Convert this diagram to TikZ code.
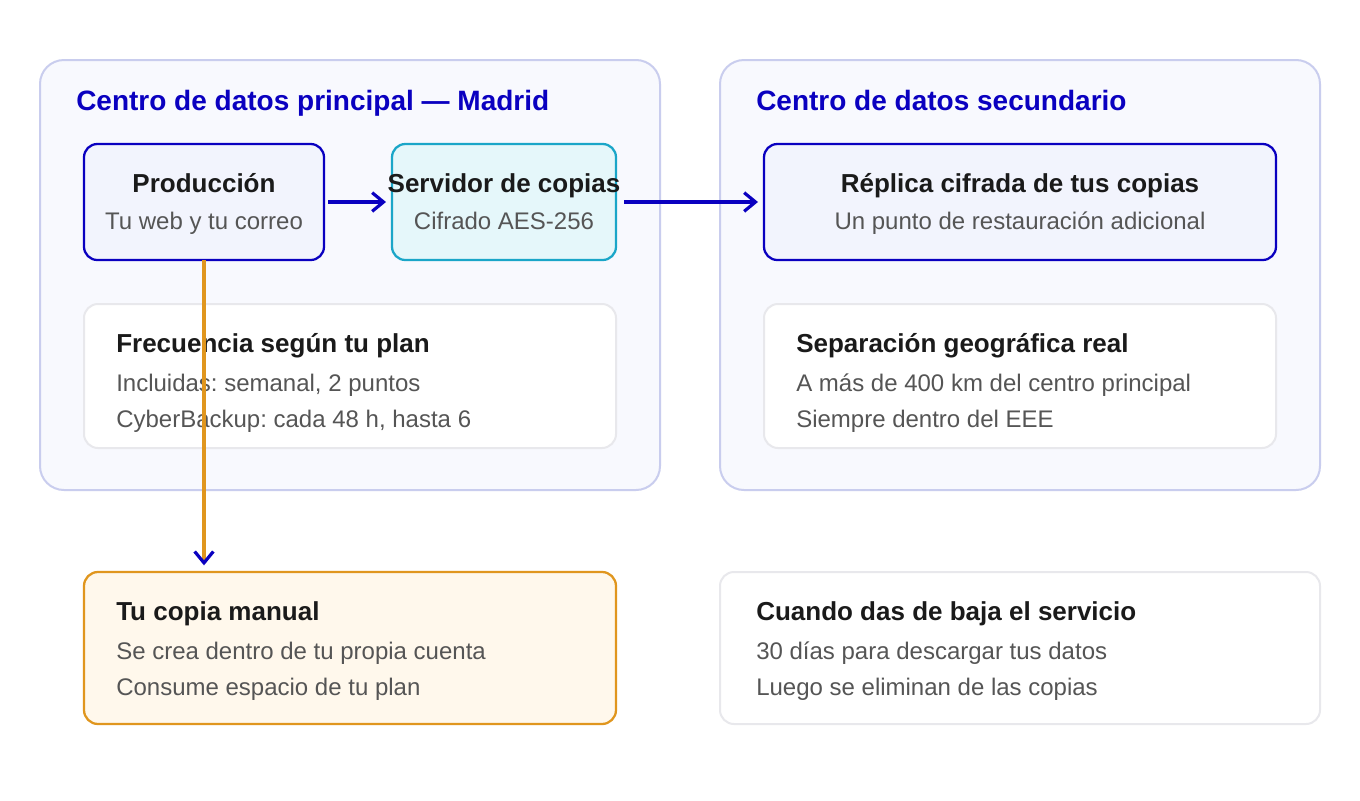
\documentclass[tikz,border=0pt]{standalone}
\usepackage{fontspec}
\setmainfont{Liberation Sans}
\frenchspacing
\usetikzlibrary{arrows.meta}
\definecolor{cblue}{HTML}{0A00C0}
\definecolor{ccyan}{HTML}{1AA6C8}
\definecolor{corange}{HTML}{E0961E}
\definecolor{outerfill}{HTML}{F8F9FE}
\definecolor{outerline}{HTML}{C9CDEE}
\definecolor{bluefill}{HTML}{F2F4FD}
\definecolor{cyanfill}{HTML}{E5F7FA}
\definecolor{orangefill}{HTML}{FFF8EC}
\definecolor{grayline}{HTML}{E8E8EC}
\definecolor{bodygray}{HTML}{555555}
\definecolor{darktext}{HTML}{1A1A1A}
\tikzset{
  box/.style={draw, rectangle, anchor=north west, inner sep=0pt, outer sep=0pt, line width=1.5pt},
  outerbox/.style={box, fill=outerfill, draw=outerline, rounded corners=18pt, minimum height=322.5pt},
  bluebox/.style={box, fill=bluefill, draw=cblue, rounded corners=10pt, line width=1.7pt},
  cyanbox/.style={box, fill=cyanfill, draw=ccyan, rounded corners=10pt, line width=1.7pt},
  whitebox/.style={box, fill=white, draw=grayline, rounded corners=10.5pt},
  orangebox/.style={box, fill=orangefill, draw=corange, rounded corners=10.5pt, line width=1.7pt},
  grouptitle/.style={anchor=base west, inner sep=0pt, text=cblue, font=\fontsize{21}{25}\selectfont\bfseries},
  headc/.style={anchor=base, inner sep=0pt, text=darktext, font=\fontsize{19.5}{23}\selectfont\bfseries},
  subc/.style={anchor=base, inner sep=0pt, text=bodygray, font=\fontsize{18}{22}\selectfont},
  headl/.style={anchor=base west, inner sep=0pt, text=darktext, font=\fontsize{19.5}{23}\selectfont\bfseries},
  subl/.style={anchor=base west, inner sep=0pt, text=bodygray, font=\fontsize{18}{22}\selectfont},
  flow/.style={draw=cblue, line width=2.5pt, -{Straight Barb[length=8.5pt,width=14pt,line width=2.4pt]}},
  manualflow/.style={draw=corange, line width=2.5pt, -{Straight Barb[length=8.5pt,width=14pt,line width=2.4pt,color=cblue]}}
}
\begin{document}
\begin{tikzpicture}[x=0.75pt,y=-0.75pt]
\useasboundingbox (0,0) rectangle (1360,800);
\fill[white] (0,0) rectangle (1360,800);

% group containers
\node[outerbox, minimum width=465pt] (left) at (40,60) {};
\node[outerbox, minimum width=450pt] (right) at (720,60) {};
\node[grouptitle] (lefttitle) at (76,110) {Centro de datos principal — Madrid};
\node[grouptitle] (righttitle) at (756,110) {Centro de datos secundario};

% flow boxes
\node[bluebox, minimum width=180pt, minimum height=87pt] (prod) at (84,144) {};
\node[cyanbox, minimum width=168pt, minimum height=87pt] (serv) at (392,144) {};
\node[bluebox, minimum width=384pt, minimum height=87pt] (rep) at (764,144) {};

\node[headc] (prodh) at (204,192) {Producción};
\node[subc] (prods) at (204,229) {Tu web y tu correo};
\node[headc] (servh) at (504,192) {Servidor de copias};
\node[subc] (servs) at (504,229) {Cifrado AES-256};
\node[headc] (reph) at (1020,192) {Réplica cifrada de tus copias};
\node[subc] (reps) at (1020,229) {Un punto de restauración adicional};

% info boxes
\node[whitebox, minimum width=399pt, minimum height=108pt] (freq) at (84,304) {};
\node[headl] (freqh) at (116,352) {Frecuencia según tu plan};
\node[subl] (freq1) at (116,391) {Incluidas: semanal, 2 puntos};
\node[subl] (freq2) at (116,427) {CyberBackup: cada 48 h, hasta 6};

\node[whitebox, minimum width=384pt, minimum height=108pt] (sep) at (764,304) {};
\node[headl] (seph) at (796,352) {Separación geográfica real};
\node[subl] (sep1) at (796,391) {A más de 400 km del centro principal};
\node[subl] (sep2) at (796,427) {Siempre dentro del EEE};

\node[orangebox, minimum width=399pt, minimum height=114pt] (copia) at (84,572) {};
\node[headl] (copiah) at (116,620) {Tu copia manual};
\node[subl] (copia1) at (116,659) {Se crea dentro de tu propia cuenta};
\node[subl] (copia2) at (116,695) {Consume espacio de tu plan};

\node[whitebox, minimum width=450pt, minimum height=114pt] (baja) at (720,572) {};
\node[headl] (bajah) at (756,620) {Cuando das de baja el servicio};
\node[subl] (baja1) at (756,659) {30 días para descargar tus datos};
\node[subl] (baja2) at (756,695) {Luego se eliminan de las copias};

% connectors
\draw[flow, shorten <=3pt, shorten >=4.5pt] (prod.east) -- (serv.west);
\draw[flow, shorten <=6pt, shorten >=4.5pt] (serv.east) -- (rep.west);
\draw[manualflow, shorten >=5pt] (prod.south) -- (prod.south |- copia.north);
\end{tikzpicture}
\end{document}
